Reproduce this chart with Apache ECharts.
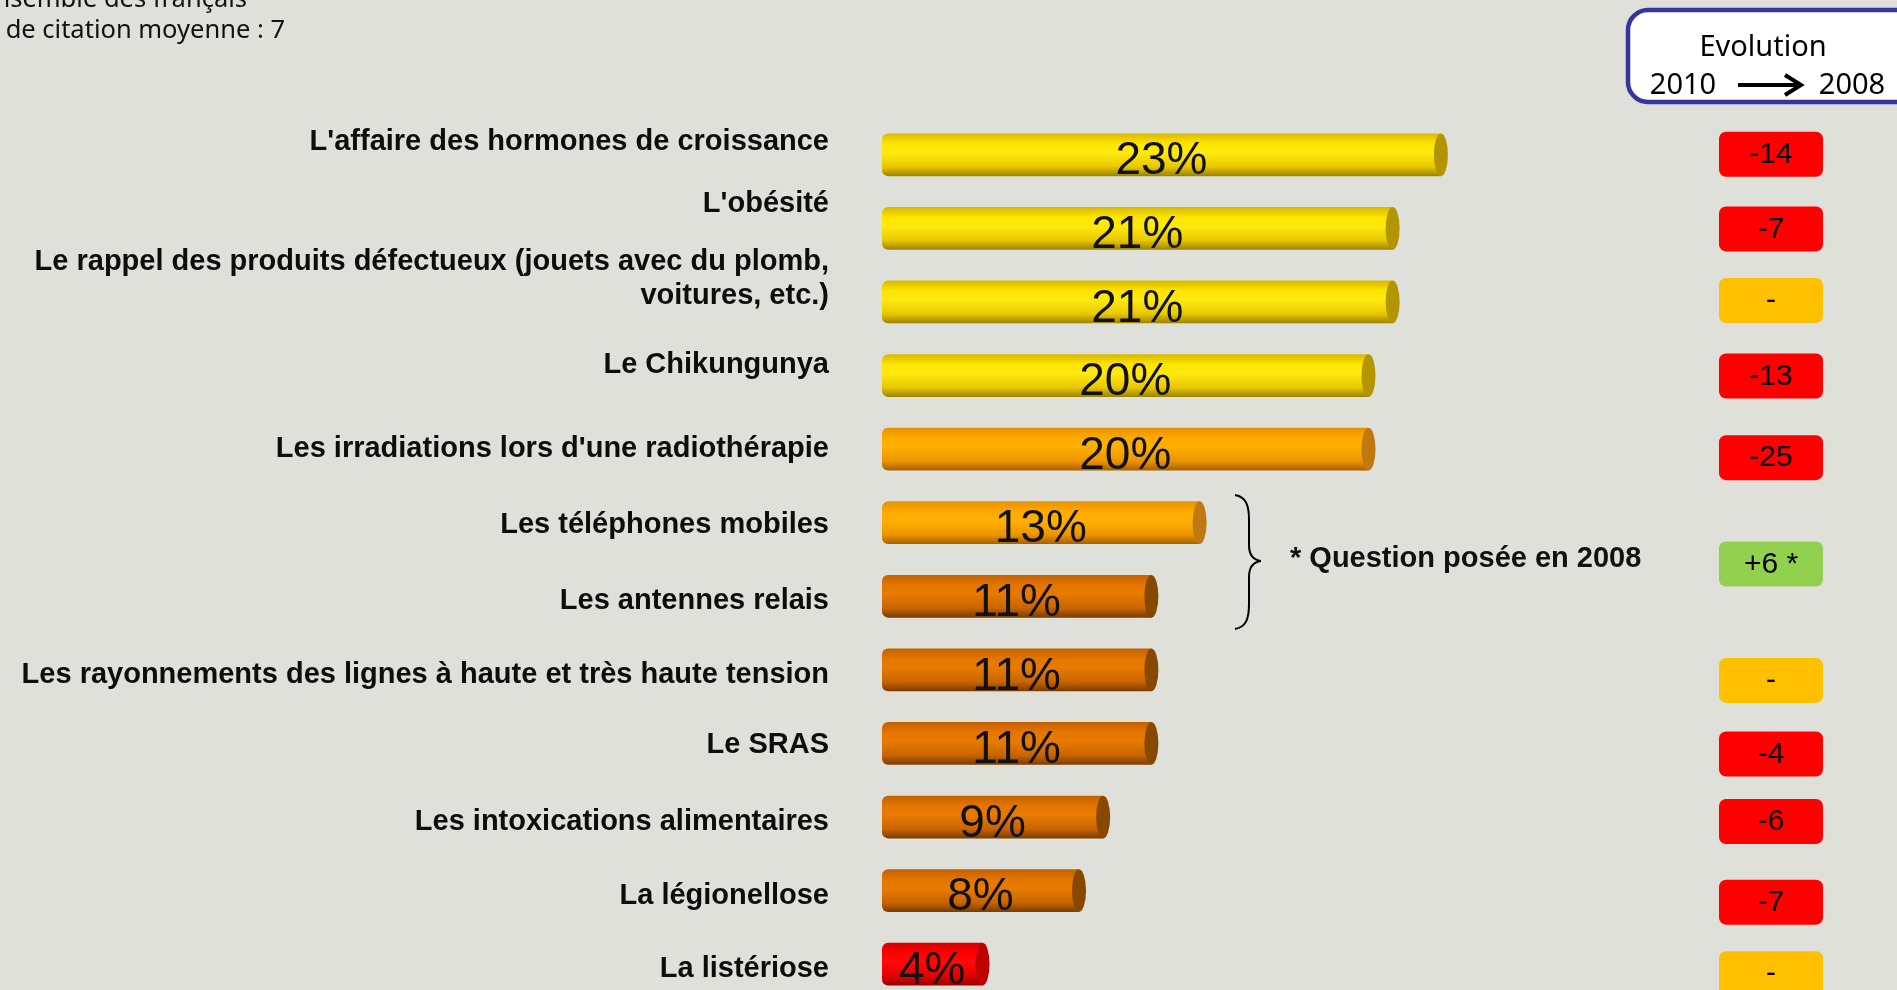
<!DOCTYPE html>
<html>
<head>
<meta charset="utf-8">
<script src="https://cdn.jsdelivr.net/npm/echarts@6.0.0/dist/echarts.min.js"></script>
<style>
  html, body { margin: 0; padding: 0; background: #dfe0da; }
  #chart { width: 1897px; height: 990px; }
</style>
</head>
<body>
<div id="chart"></div>
<script>
// risques cités (% de citation) et évolution 2010 -> 2008
const categories = [
  "L'affaire des hormones de croissance",
  "L'obésité",
  "Le rappel des produits défectueux (jouets avec du plomb,\nvoitures, etc.)",
  "Le Chikungunya",
  "Les irradiations lors d'une radiothérapie",
  "Les téléphones mobiles",
  "Les antennes relais",
  "Les rayonnements des lignes à haute et très haute tension",
  "Le SRAS",
  "Les intoxications alimentaires",
  "La légionellose",
  "La listériose"
];
const citations = [23, 21, 21, 20, 20, 13, 11, 11, 11, 9, 8, 4];
// null = partagé avec la ligne du dessus (accolade)
const evolution = ['-14', '-7', '-', '-13', '-25', '+6 *', null, '-', '-4', '-6', '-7', '-'];

// mise en page / styles
const barTone = [0, 0, 0, 0, 1, 1, 2, 2, 2, 2, 2, 3];
const labelShift = [-13, -24, -23, -11, 0, 2, 5, 5, 2, 5, 5, 5];
const badgeShift = [-1, 0, -2, 0, 8, 4, 0, 10, 10, 4, 11, 9];
const tones = [
  { stops: ['#d9b800', '#ffe600', '#ffea10', '#e8c800', '#9c8200'], cap: '#b39500' },
  { stops: ['#e69200', '#ffaa00', '#ffb000', '#ec9400', '#a86000'], cap: '#c07810' },
  { stops: ['#c46000', '#e57700', '#e87a00', '#c86400', '#7a3c00'], cap: '#874800' },
  { stops: ['#d80000', '#ff0000', '#ff0a0a', '#e00000', '#980000'], cap: '#bf0000' }
];
const FONT = "'Liberation Sans', Arial, sans-serif";
const FONT2 = "'Noto Sans', 'DejaVu Sans', sans-serif";

const chart = echarts.init(document.getElementById('chart'));

function renderBar(params, api) {
  const row = api.value(1);
  const start = api.coord([0, row]);
  const end = api.coord([api.value(0), row]);
  const h = api.size([0, 1])[1] * 0.58;
  const capRx = 7;
  const x0 = start[0] - 11;
  const x1 = end[0];
  const cy = end[1];
  const tone = tones[barTone[row]];
  const grad = new echarts.graphic.LinearGradient(0, 0, 0, 1, [
    { offset: 0, color: tone.stops[0] },
    { offset: 0.25, color: tone.stops[1] },
    { offset: 0.45, color: tone.stops[2] },
    { offset: 0.78, color: tone.stops[3] },
    { offset: 1, color: tone.stops[4] }
  ]);
  return {
    type: 'group',
    children: [
      {
        type: 'rect',
        shape: { x: x0, y: cy - h / 2, width: x1 - capRx - x0, height: h, r: [6, 0, 0, 6] },
        style: { fill: grad }
      },
      {
        // face du cylindre : cercle aplati
        type: 'circle',
        x: x1 - capRx,
        y: cy,
        scaleX: capRx / (h / 2),
        shape: { cx: 0, cy: 0, r: h / 2 },
        style: { fill: tone.cap }
      },
      {
        type: 'text',
        style: {
          text: api.value(0) + '%',
          x: (x0 + x1 - capRx) / 2,
          y: cy + 7,
          align: 'center',
          verticalAlign: 'middle',
          fontSize: 46,
          fontFamily: FONT,
          fill: '#111'
        }
      }
    ]
  };
}

function renderLabel(params, api) {
  const row = api.value(1);
  const p = api.coord([0, row]);
  return {
    type: 'text',
    style: {
      text: categories[row],
      x: p[0] - 64,
      y: p[1] + labelShift[row],
      align: 'right',
      verticalAlign: 'middle',
      lineHeight: 34,
      fontSize: 29,
      fontWeight: 'bold',
      fontFamily: FONT,
      fill: '#0d0d0d'
    }
  };
}

function renderBadge(params, api) {
  const row = api.value(1);
  const text = evolution[row];
  if (text == null) return;
  let cy = api.coord([0, row])[1];
  if (row + 1 < evolution.length && evolution[row + 1] === null) {
    cy = (cy + api.coord([0, row + 1])[1]) / 2;
  }
  cy += badgeShift[row];
  const cs = params.coordSys;
  const fill = text === '-' ? '#ffc000' : text[0] === '+' ? '#92d050' : '#ff0000';
  return {
    type: 'group',
    children: [
      {
        type: 'rect',
        shape: { x: cs.x, y: cy - 22, width: cs.width, height: 45, r: 7 },
        style: { fill: fill }
      },
      {
        type: 'text',
        style: {
          text: text,
          x: cs.x + cs.width / 2,
          y: cy + 1,
          align: 'center',
          verticalAlign: 'middle',
          fontSize: 30,
          fontFamily: FONT,
          fill: '#000'
        }
      }
    ]
  };
}

// accolade "}" en morceaux
const braceStroke = { stroke: '#000', lineWidth: 2, fill: null };
const brace = [
  { type: 'bezierCurve', shape: { x1: 1235, y1: 495, cpx1: 1246, cpy1: 497, cpx2: 1249, cpy2: 505, x2: 1249, y2: 520 }, style: braceStroke },
  { type: 'line', shape: { x1: 1249, y1: 520, x2: 1249, y2: 545 }, style: braceStroke },
  { type: 'bezierCurve', shape: { x1: 1249, y1: 545, cpx1: 1249, cpy1: 555, cpx2: 1253, cpy2: 560, x2: 1261, y2: 561 }, style: braceStroke },
  { type: 'bezierCurve', shape: { x1: 1261, y1: 561, cpx1: 1253, cpy1: 562, cpx2: 1249, cpy2: 567, x2: 1249, y2: 577 }, style: braceStroke },
  { type: 'line', shape: { x1: 1249, y1: 577, x2: 1249, y2: 604 }, style: braceStroke },
  { type: 'bezierCurve', shape: { x1: 1249, y1: 604, cpx1: 1249, cpy1: 619, cpx2: 1246, cpy2: 627, x2: 1235, y2: 629 }, style: braceStroke }
];

const rows = citations.map((v, i) => [v, i]);

chart.setOption({
  animation: false,
  backgroundColor: '#dfe0da',
  grid: [
    { left: 893, right: 39, top: 118, height: 883, outerBoundsMode: 'none' },
    { left: 1719, width: 104, top: 118, height: 883, outerBoundsMode: 'none' }
  ],
  xAxis: [
    { type: 'value', min: 0, max: 40, show: false },
    { type: 'value', min: 0, max: 1, show: false, gridIndex: 1 }
  ],
  yAxis: [
    { type: 'category', data: categories, inverse: true, show: false },
    { type: 'category', data: categories, inverse: true, show: false, gridIndex: 1 }
  ],
  series: [
    {
      type: 'custom',
      renderItem: renderBar,
      clip: false,
      encode: { x: 0, y: 1 },
      data: rows
    },
    {
      type: 'custom',
      renderItem: renderLabel,
      clip: false,
      encode: { x: 0, y: 1 },
      data: rows
    },
    {
      type: 'custom',
      xAxisIndex: 1,
      yAxisIndex: 1,
      renderItem: renderBadge,
      clip: false,
      encode: { x: 0, y: 1 },
      data: evolution.map((e, i) => [0.5, i])
    }
  ],
  graphic: [
    // en-tête (coupé à gauche dans l'original)
    {
      type: 'text', x: 247, y: 0,
      style: { text: 'Base : Ensemble des français', align: 'right', verticalAlign: 'middle', fontSize: 25.5, fontFamily: FONT2, fill: '#111' }
    },
    {
      type: 'text', x: 285, y: 31,
      style: { text: 'Nombre de citation moyenne : 7', align: 'right', verticalAlign: 'middle', fontSize: 25.5, fontFamily: FONT2, fill: '#111' }
    },
    // cadre Evolution
    {
      type: 'rect',
      shape: { x: 1628, y: 10, width: 300, height: 92, r: 20 },
      style: { fill: '#ffffff', stroke: '#35359b', lineWidth: 4.5 }
    },
    {
      type: 'text', x: 1763, y: 48,
      style: { text: 'Evolution', align: 'center', verticalAlign: 'middle', fontSize: 29, fontFamily: FONT2, fill: '#000' }
    },
    {
      type: 'text', x: 1683, y: 86,
      style: { text: '2010', align: 'center', verticalAlign: 'middle', fontSize: 29, fontFamily: FONT2, fill: '#000' }
    },
    {
      type: 'text', x: 1852, y: 86,
      style: { text: '2008', align: 'center', verticalAlign: 'middle', fontSize: 29, fontFamily: FONT2, fill: '#000' }
    },
    {
      type: 'polyline',
      shape: { points: [[1738, 85], [1798, 85]] },
      style: { stroke: '#000', lineWidth: 4 }
    },
    {
      type: 'polyline',
      shape: { points: [[1785, 75], [1801, 85], [1785, 95]] },
      style: { stroke: '#000', lineWidth: 4, fill: null }
    },
    ...brace,
    {
      type: 'text', x: 1290, y: 559,
      style: { text: '* Question posée en 2008', align: 'left', verticalAlign: 'middle', fontSize: 29, fontWeight: 'bold', fontFamily: FONT, fill: '#111' }
    }
  ]
});
</script>
</body>
</html>
